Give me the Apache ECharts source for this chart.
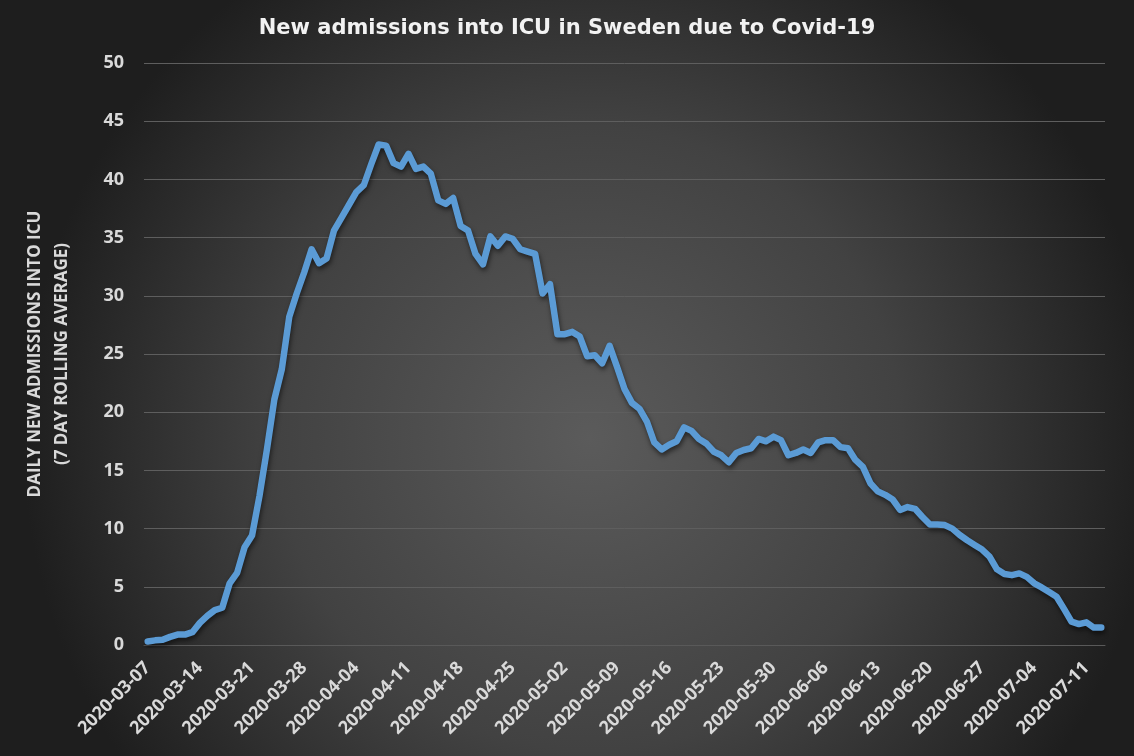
<!DOCTYPE html>
<html>
<head>
<meta charset="utf-8">
<script src="https://cdn.jsdelivr.net/npm/echarts@6/dist/echarts.min.js"></script>
<style>
  html, body { margin: 0; padding: 0; background: #2a2a2a; }
  #main { width: 1134px; height: 756px; }
</style>
</head>
<body>
<div id="main"></div>
<script>
// first day of the series, one point per day
const startDate = '2020-03-07';

// 7 day rolling average of new ICU admissions
const admissions = [
  0.3, 0.4, 0.45, 0.7, 0.9, 0.9, 1.1, 1.9, 2.5, 3.0,
  3.2, 5.3, 6.2, 8.4, 9.4, 12.8, 16.8, 21.1, 23.7, 28.2,
  30.2, 32.0, 34.0, 32.8, 33.2, 35.6, 36.7, 37.8, 38.9, 39.5,
  41.3, 43.0, 42.9, 41.4, 41.1, 42.2, 40.9, 41.1, 40.5, 38.2,
  37.9, 38.4, 36.0, 35.6, 33.6, 32.7, 35.1, 34.3, 35.1, 34.9,
  34.0, 33.8, 33.6, 30.2, 31.0, 26.7, 26.7, 26.9, 26.5, 24.8,
  24.9, 24.2, 25.7, 23.9, 22.0, 20.8, 20.3, 19.2, 17.4, 16.8,
  17.2, 17.5, 18.7, 18.4, 17.7, 17.3, 16.6, 16.3, 15.7, 16.5,
  16.75, 16.9, 17.7, 17.5, 17.9, 17.6, 16.3, 16.5, 16.8, 16.5,
  17.4, 17.6, 17.6, 17.0, 16.9, 15.9, 15.3, 13.9, 13.2, 12.9,
  12.5, 11.6, 11.85, 11.7, 11.0, 10.35, 10.35, 10.3, 10.0, 9.45,
  9.0, 8.6, 8.2, 7.6, 6.5, 6.1, 6.0, 6.15, 5.85, 5.3,
  4.95, 4.55, 4.15, 3.1, 2.0, 1.8, 1.95, 1.5, 1.5
];

const yTicks = { min: 0, max: 50, interval: 5 };

function buildDates(start, n) {
  const out = [];
  const d = new Date(start + 'T00:00:00Z');
  for (let i = 0; i < n; i++) {
    out.push(d.toISOString().slice(0, 10));
    d.setUTCDate(d.getUTCDate() + 1);
  }
  return out;
}
const dates = buildDates(startDate, admissions.length);

const chart = echarts.init(document.getElementById('main'));

const option = {
  backgroundColor: {
    type: 'radial', x: 0.52, y: 0.58, r: 0.75,
    colorStops: [
      { offset: 0, color: '#5b5b5b' },
      { offset: 0.55, color: '#424242' },
      { offset: 1, color: '#1e1e1e' }
    ]
  },
  title: {
    text: 'New admissions into ICU in Sweden due to Covid-19',
    left: 'center',
    top: 13,
    textStyle: {
      color: '#f2f2f2',
      fontFamily: 'DejaVu Sans',
      fontWeight: 'bold',
      fontSize: 21
    }
  },
  grid: { left: 144, right: 29, top: 63, bottom: 111 },
  xAxis: {
    type: 'category',
    data: dates,
    boundaryGap: true,
    axisLine: { lineStyle: { color: '#595959', width: 1 } },
    axisTick: { interval: 6, length: 5, lineStyle: { color: '#595959' } },
    axisLabel: {
      interval: 6,
      rotate: 45,
      margin: 20,
      color: '#d9d9d9',
      fontFamily: 'Open Sans',
      fontWeight: 'bold',
      fontSize: 18
    },
    splitLine: { show: false }
  },
  yAxis: {
    type: 'value',
    min: yTicks.min,
    max: yTicks.max,
    interval: yTicks.interval,
    name: 'DAILY NEW ADMISSIONS INTO ICU\n(7 DAY ROLLING AVERAGE)',
    nameLocation: 'middle',
    nameRotate: 90,
    nameGap: 68,
    nameTextStyle: {
      color: '#d9d9d9',
      fontFamily: 'Open Sans',
      fontWeight: 'bold',
      fontSize: 17,
      lineHeight: 27
    },
    axisLine: { show: false },
    axisTick: { show: false },
    axisLabel: {
      margin: 20,
      color: '#d9d9d9',
      fontFamily: 'Open Sans',
      fontWeight: 'bold',
      fontSize: 18
    },
    splitLine: { lineStyle: { color: '#5e5e5e', width: 1 } }
  },
  series: [
    {
      name: 'ICU admissions',
      type: 'line',
      data: admissions,
      showSymbol: false,
      smooth: false,
      lineStyle: {
        color: '#5b9bd5',
        width: 6.5,
        cap: 'round',
        join: 'round',
        shadowColor: 'rgba(0,0,0,0.55)',
        shadowBlur: 5,
        shadowOffsetX: 1,
        shadowOffsetY: 3
      },
      itemStyle: { color: '#5b9bd5' }
    }
  ]
};

chart.setOption(option);
</script>
</body>
</html>
